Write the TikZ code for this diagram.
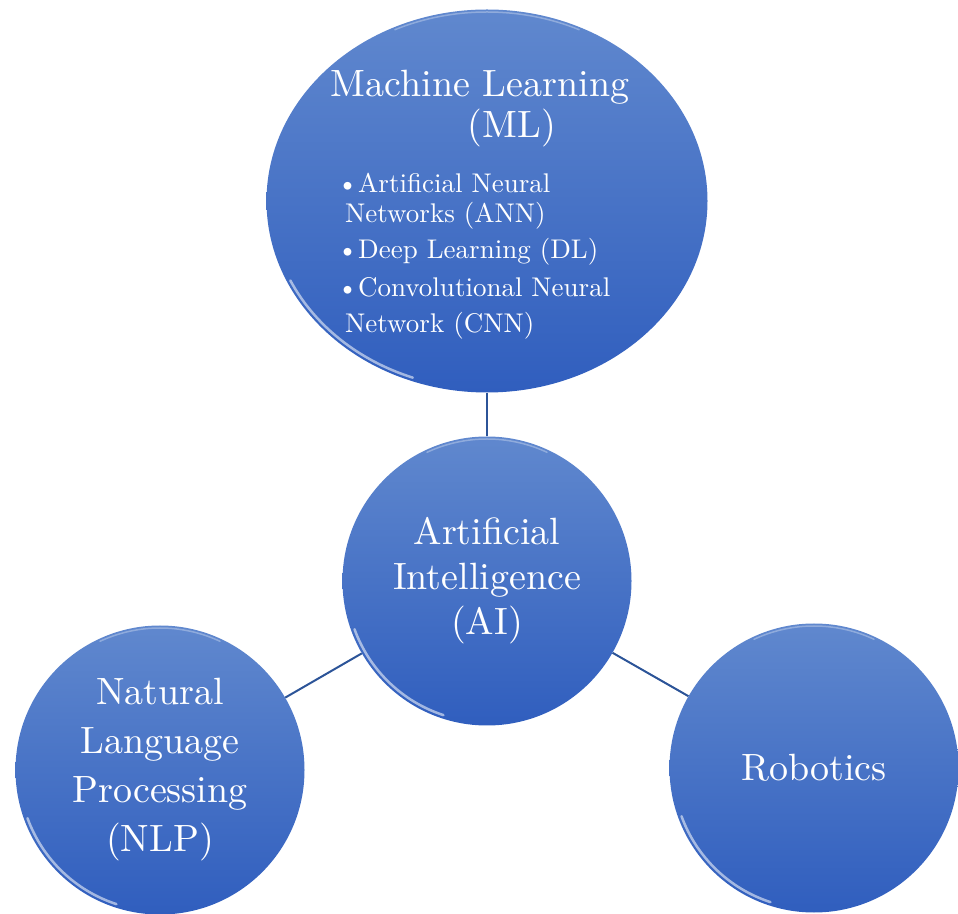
\documentclass[tikz,border=0pt]{standalone}
\usepackage{fontspec}
\usepackage{xcolor}
\usepackage{tikz}
\usetikzlibrary{shapes,positioning}
\usetikzlibrary{calc}

\newfontfamily\bubblefont{lmroman10-regular}[Extension=.otf]

\definecolor{ballTop}{RGB}{96,136,206}
\definecolor{ballBot}{RGB}{48,94,190}
\definecolor{linkBlue}{RGB}{44,84,152}

\tikzset{
	ball/.style={circle, inner sep=0pt, minimum size=289pt,
		top color=ballTop, bottom color=ballBot, text=white, align=center},
	link/.style={draw=linkBlue, line width=2pt},
	rim/.style={white, opacity=0.55, line width=2.5pt, line cap=round},
	bigtext/.style={font=\bubblefont\fontsize{38}{45}\selectfont, text=white},
	listtext/.style={font=\bubblefont\fontsize{27}{36}\selectfont, text=white}
}

\begin{document}
\begin{tikzpicture}[x=1pt,y=1pt]
\useasboundingbox (0,0) rectangle (958,913);

%Bulles
\node[ball, ellipse, minimum width=441pt, minimum height=383pt] (ML) at (487,712) {};
\node[ball, bigtext] (AI) at (487,332) {Artificial\\Intelligence\\(AI)};
\node[ball, bigtext, font=\bubblefont\fontsize{38}{49}\selectfont] (NLP) at (160,143) {Natural\\Language\\Processing\\(NLP)};
\node[ball, bigtext] (Rob) at (814,145) {Robotics};

%Reflets sur les bords
\foreach \n in {AI,NLP,Rob}{
	\draw[rim] ($(\n.center)+(200:141)$) arc[start angle=200, end angle=252, radius=141];
	\draw[rim, opacity=0.3, line width=1.5pt] ($(\n.center)+(65:142)$) arc[start angle=65, end angle=115, radius=142];
}
\draw[rim] ($(ML.center)+(205:{217 and 188})$) arc[start angle=205, end angle=250, x radius=217, y radius=188];
\draw[rim, opacity=0.3, line width=1.5pt] ($(ML.center)+(65:{218 and 189})$) arc[start angle=65, end angle=115, x radius=218, y radius=189];

%Liens
\draw[link] (ML) -- (AI);
\draw[link] (AI) -- (NLP);
\draw[link] (AI) -- (Rob);

%Textes de ML
\node[bigtext, anchor=base] (mlTitle) at (480,816) {Machine Learning};
\node[bigtext, anchor=base] (mlAbbr) at (512,775) {(ML)};
\node[listtext, align=left, anchor=north west, inner sep=0pt] (mlList) at (337,740)
	{\textbullet Artificial Neural\\[-6pt]
	\hspace*{8pt}Networks (ANN)\\
	\textbullet Deep Learning (DL)\\[2pt]
	\textbullet Convolutional Neural\\
	\hspace*{8pt}Network (CNN)};

\end{tikzpicture}
\end{document}
